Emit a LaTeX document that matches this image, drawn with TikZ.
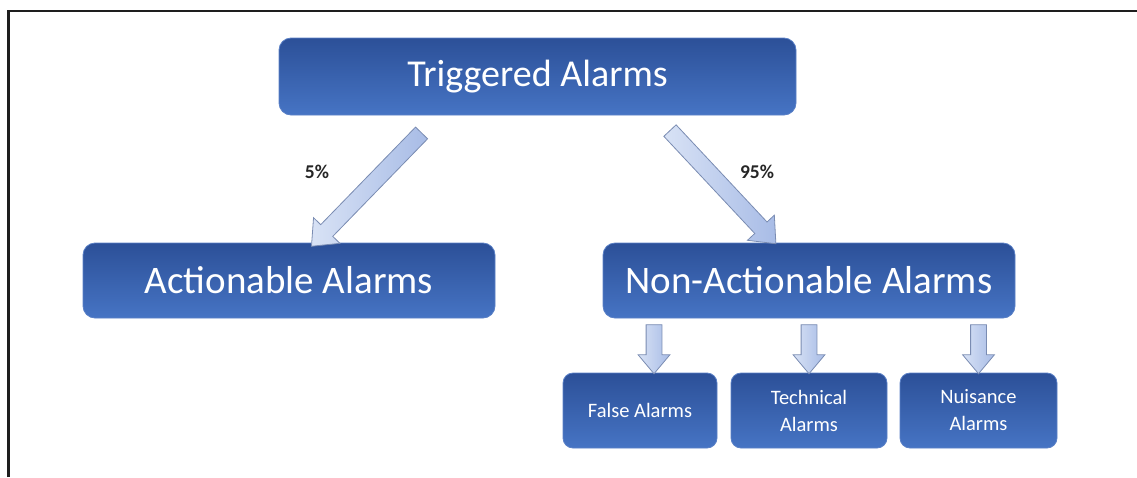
\documentclass[tikz,border=0pt]{standalone}
\usepackage{fontspec}
\setmainfont{Carlito}
\usetikzlibrary{shapes.arrows,calc}
\definecolor{boxtop}{RGB}{44,80,152}
\definecolor{boxbot}{RGB}{70,116,196}
\definecolor{boxedge}{RGB}{90,128,198}
\definecolor{arrfillA}{RGB}{216,226,245}
\definecolor{arrfillB}{RGB}{168,188,230}
\definecolor{arredge}{RGB}{122,140,178}
\definecolor{framecol}{RGB}{30,30,30}
\begin{document}
\begin{tikzpicture}[x=1pt,y=-1pt,
  box/.style={rounded corners=12pt, draw=boxedge, line width=0.8pt,
    top color=boxtop, bottom color=boxbot, text=white, align=center,
    inner sep=0pt},
  bigtext/.style={font=\fontsize{39}{46}\selectfont},
  smalltext/.style={font=\fontsize{20.5}{27}\selectfont},
  blockarrow/.style={single arrow, draw=arredge, line width=0.8pt,
    left color=arrfillA, right color=arrfillB, inner xsep=0pt,
    sloped, allow upside down, anchor=center},
  pct/.style={font=\bfseries\fontsize{19.5}{23}\selectfont, text=black!85}
]
\useasboundingbox (0,0) rectangle (1137,477);
% frame
\draw[framecol, line width=2.2pt] (8.5,477) -- (8.5,11) -- (1137,11);

% boxes
\node[box, bigtext, minimum width=517pt, minimum height=77pt, font=\fontsize{38}{46}\selectfont] (trig) at (537.5,76.5) {Triggered Alarms};
\node[box, bigtext, minimum width=412pt, minimum height=75pt] (act) at (289,280.5) {Actionable Alarms};
\node[box, bigtext, minimum width=412pt, minimum height=75pt] (non) at (809,280.5) {Non-Actionable Alarms};
\node[box, smalltext, rounded corners=10pt, minimum width=154pt, minimum height=75pt] (fal) at (640,410.5) {False Alarms};
\node[box, smalltext, rounded corners=10pt, minimum width=156pt, minimum height=75pt] (tec) at (809,410.5) {Technical\\Alarms};
\node[box, smalltext, rounded corners=10pt, minimum width=157pt, minimum height=75pt] (nui) at (978.5,410.5) {Nuisance\\Alarms};

% arrow end points
\coordinate (l1) at ($(trig.south)+(-112.5,14)$);
\coordinate (l2) at ($(act.north)+(26,0)$);
\coordinate (r1) at ($(trig.south)+(129.5,12)$);
\coordinate (r2) at ($(non.north)+(-37,-3)$);
\coordinate (f1) at ($(non.south)+(-155,2)$);
\coordinate (f2) at ($(fal.north)+(14,-4)$);
\coordinate (t1) at ($(non.south)+(0,2)$);
\coordinate (t2) at ($(tec.north)+(0,-4)$);
\coordinate (n1) at ($(non.south)+(169.5,2)$);
\coordinate (n2) at ($(nui.north)+(0,-4)$);

% block arrows
\path (l1) -- (l2) node[midway, blockarrow, inner ysep=8pt, minimum height=158pt, minimum width=36pt,
  single arrow head extend=10pt, single arrow tip angle=80] {};
\path (r1) -- (r2) node[midway, blockarrow, inner ysep=8pt, minimum height=155pt, minimum width=36pt,
  single arrow head extend=10pt, single arrow tip angle=80] {};
\foreach \a/\b in {f1/f2, t1/t2, n1/n2}{
  \path (\a) -- (\b) node[midway, blockarrow, inner ysep=7.5pt, minimum height=49pt, minimum width=31pt,
    single arrow head extend=8pt, single arrow tip angle=80] {};
}

% labels
\node[pct] (p5) at (317,172) {5\%};
\node[pct] (p95) at (757,172) {95\%};
\end{tikzpicture}
\end{document}
